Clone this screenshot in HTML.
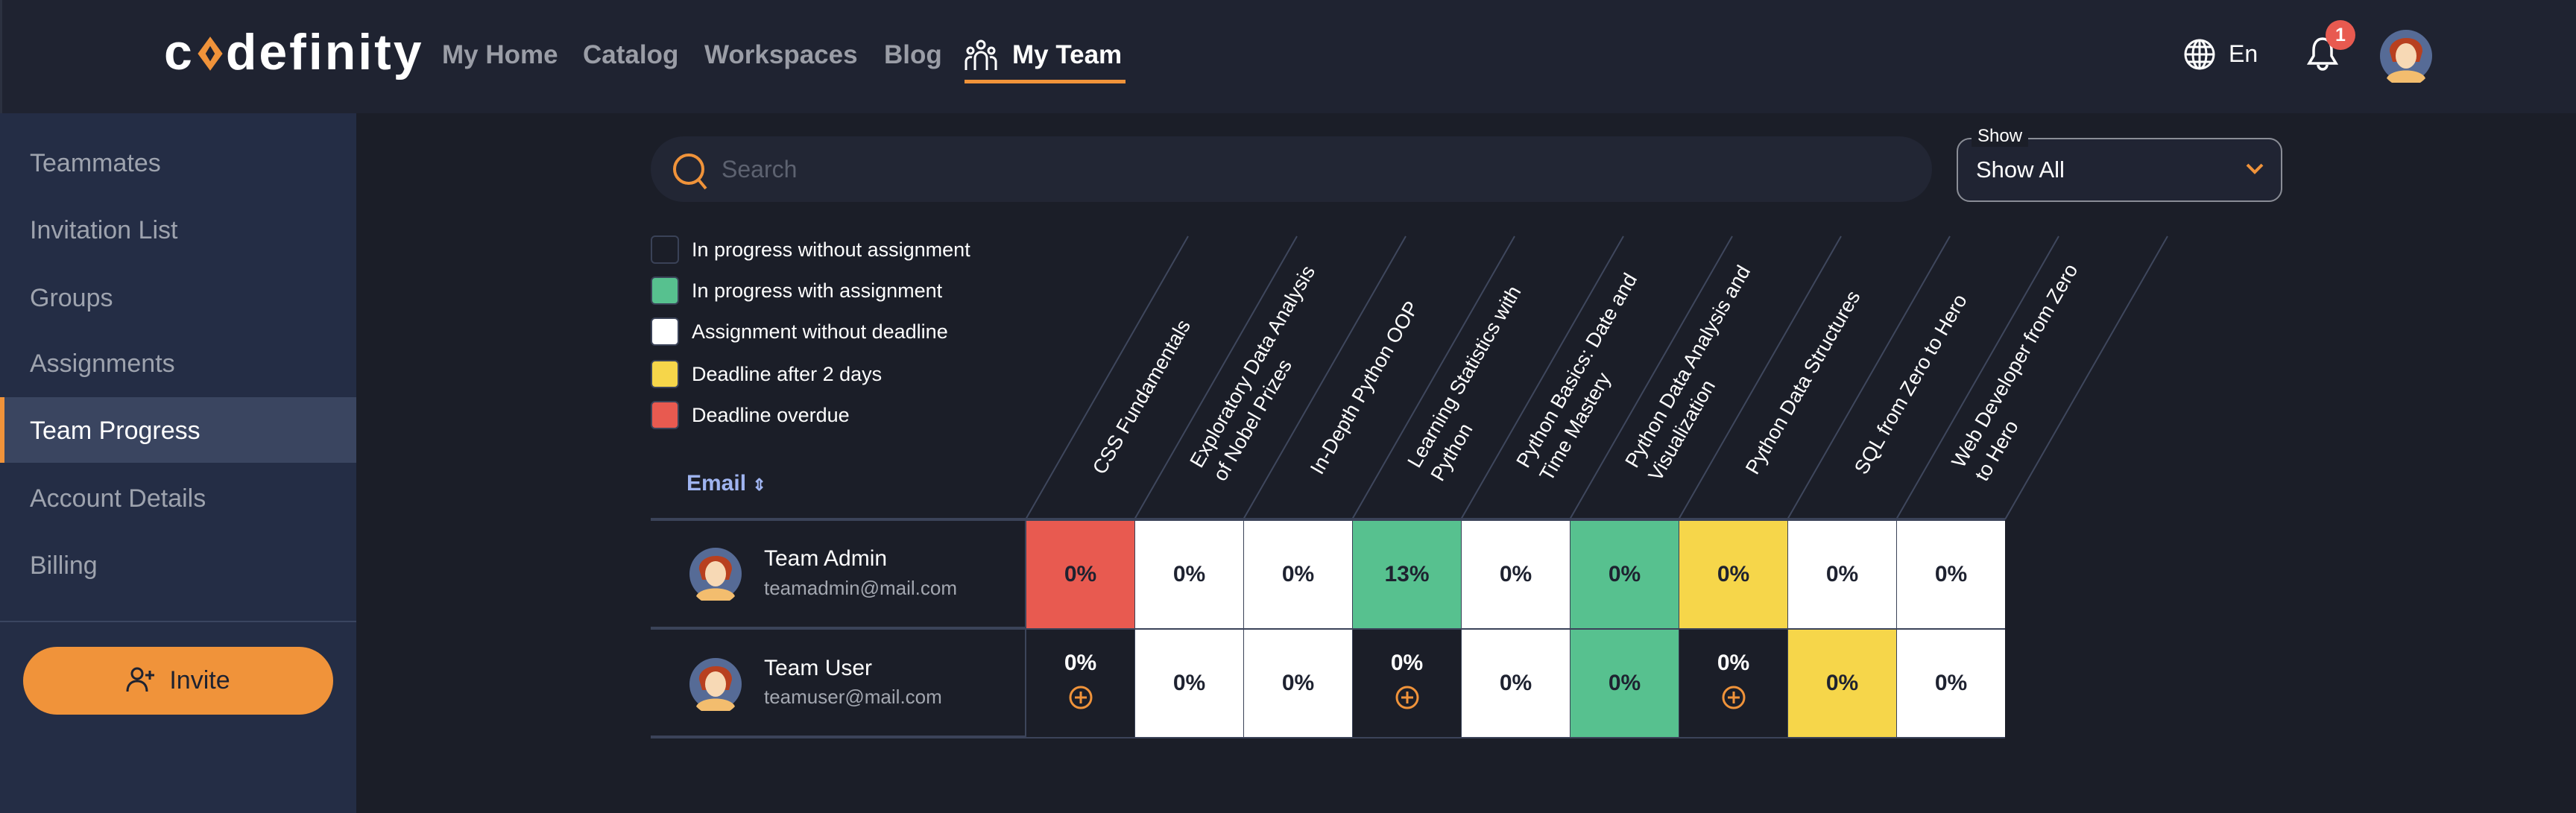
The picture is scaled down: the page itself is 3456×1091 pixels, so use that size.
<!DOCTYPE html>
<html><head><meta charset="utf-8"><style>
*{margin:0;padding:0;box-sizing:border-box}
body{width:3456px;height:1091px;background:#1b1e28;font-family:"Liberation Sans",sans-serif;position:relative;overflow:hidden;color:#fff}
.a{position:absolute}
.hdr{left:0;top:0;width:3456px;height:152px;background:#1f2331;border-left:3px solid #2c3140}
.nav{top:54px;font-size:35px;font-weight:bold;color:#9a9da6}
.side{left:0;top:152px;width:478px;height:939px;background:#242d45}
.si{left:40px;font-size:34px;color:#9ea3ae}
.leg{left:873px;width:38px;height:38px;border-radius:6px;border:2px solid #3a4257}
.lt{left:928px;font-size:27px;color:#fff}
.lab{height:80px;width:460px;display:flex;align-items:center;transform-origin:0 50%;transform:rotate(-60deg);font-size:27px;line-height:36px;color:#fff;white-space:nowrap}
.cell{width:146px;height:144px;display:flex;align-items:center;justify-content:center;font-weight:bold;font-size:30px;color:#1e2230;border-left:1px solid #3a4257}
.dk{background:#1b1e28;color:#fff;flex-direction:column;justify-content:flex-start;padding-top:28px}
.w{background:#fff}.r{background:#e85a50}.g{background:#57c18f}.y{background:#f6d64a}
.nm{left:1025px;font-size:30px;color:#fff}
.em{left:1025px;font-size:26px;color:#a3a7b0}
</style></head><body>
<div class="a hdr"></div>
<div class="a" style="left:220px;top:30px;font-size:68px;font-weight:bold;color:#fff;letter-spacing:3px;line-height:80px">c<svg width="42" height="54" viewBox="0 0 40 52" style="vertical-align:-6px"><path d="M4 26 L20 4 L36 26 L20 48 Z" fill="#f0933a"/><path d="M14 26 L20 16 L26 26 L20 36 Z" fill="#1f2331"/></svg>definity</div>
<div class="a nav" style="left:593px">My Home</div>
<div class="a nav" style="left:782px">Catalog</div>
<div class="a nav" style="left:945px">Workspaces</div>
<div class="a nav" style="left:1186px">Blog</div>
<svg class="a" style="left:1294px;top:52px" width="44" height="44" viewBox="0 0 44 44" fill="none" stroke="#fff" stroke-width="3"><circle cx="22" cy="8" r="5"/><circle cx="8" cy="16" r="4"/><circle cx="36" cy="16" r="4"/><path d="M14 42V26a8 8 0 0 1 16 0v16M2 42V30a6 6 0 0 1 8-5M42 42V30a6 6 0 0 0-8-5"/></svg>
<div class="a nav" style="left:1358px;color:#fff">My Team</div>
<div class="a" style="left:1294px;top:107px;width:216px;height:5px;background:#f0933a"></div>
<svg class="a" style="left:2929px;top:51px" width="44" height="44" viewBox="0 0 44 44" fill="none" stroke="#fff" stroke-width="3"><circle cx="22" cy="22" r="19"/><ellipse cx="22" cy="22" rx="9" ry="19"/><path d="M3 22h38M6 12h32M6 32h32M22 3v38"/></svg>
<div class="a" style="left:2990px;top:54px;font-size:32px">En</div>
<svg class="a" style="left:3093px;top:46px" width="46" height="52" viewBox="0 0 46 52" fill="none" stroke="#fff" stroke-width="3.5"><path d="M23 6c-8 0-12 7-12 15v8l-6 10h36l-6-10v-8c0-8-4-15-12-15z"/><path d="M17 41a6 6 0 0 0 12 0"/></svg>
<div class="a" style="left:3120px;top:27px;width:40px;height:40px;border-radius:50%;background:#e85a50;font-size:25px;font-weight:bold;text-align:center;line-height:40px">1</div>
<svg class="a" style="left:3192px;top:35px" width="72" height="76" viewBox="0 0 72 76"><circle cx="36" cy="40" r="35" fill="#566b96"/><path d="M14 34c-2-22 44-26 44 0l-4 14H18z" fill="#b8401f"/><ellipse cx="36" cy="40" rx="14" ry="17" fill="#f7d9b5"/><path d="M10 70c6-14 46-14 52 0a35 35 0 0 1-52 0z" fill="#f3bd6e"/></svg>
<div class="a side"></div>
<div class="a si" style="top:200px">Teammates</div>
<div class="a si" style="top:290px">Invitation List</div>
<div class="a si" style="top:381px">Groups</div>
<div class="a si" style="top:469px">Assignments</div>
<div class="a" style="left:0;top:533px;width:478px;height:88px;background:#3a4560;border-left:6px solid #f0933a"></div>
<div class="a si" style="top:559px;color:#fff">Team Progress</div>
<div class="a si" style="top:650px">Account Details</div>
<div class="a si" style="top:740px">Billing</div>
<div class="a" style="left:0;top:833px;width:478px;height:2px;background:#3a4560"></div>
<div class="a" style="left:31px;top:868px;width:416px;height:91px;border-radius:46px;background:#f0933a;color:#1e2230;font-size:34px;text-align:center;line-height:91px"><svg width="40" height="36" viewBox="0 0 40 36" fill="none" stroke="#1e2230" stroke-width="3" style="vertical-align:-6px;margin-right:18px"><circle cx="15" cy="10" r="7"/><path d="M2 34c0-10 6-14 13-14s13 4 13 14M32 6v12M26 12h12"/></svg>Invite</div>
<div class="a" style="left:873px;top:183px;width:1719px;height:88px;border-radius:44px;background:#222634"></div>
<svg class="a" style="left:900px;top:203px" width="52" height="54" viewBox="0 0 52 54" fill="none" stroke="#f0933a" stroke-width="4"><circle cx="24" cy="24" r="19"/><path d="M37 38l10 12"/></svg>
<div class="a" style="left:968px;top:209px;font-size:32px;color:#5d6270">Search</div>
<div class="a" style="left:2625px;top:185px;width:437px;height:86px;border-radius:18px;border:2px solid #8a8d96;background:#202433"></div>
<div class="a" style="left:2645px;top:169px;padding:0 8px;background:#1b1e28;font-size:24px;color:#fff">Show</div>
<div class="a" style="left:2651px;top:210px;font-size:31px;color:#fff">Show All</div>
<svg class="a" style="left:3012px;top:216px" width="26" height="20" viewBox="0 0 26 20" fill="none" stroke="#f0933a" stroke-width="4"><path d="M3 5l10 10 10-10"/></svg>
<div class="a leg" style="top:316px"></div><div class="a lt" style="top:320px">In progress without assignment</div>
<div class="a leg" style="top:371px;background:#57c18f"></div><div class="a lt" style="top:375px">In progress with assignment</div>
<div class="a leg" style="top:426px;background:#fff"></div><div class="a lt" style="top:430px">Assignment without deadline</div>
<div class="a leg" style="top:483px;background:#f6d64a"></div><div class="a lt" style="top:487px">Deadline after 2 days</div>
<div class="a leg" style="top:538px;background:#e85a50"></div><div class="a lt" style="top:542px">Deadline overdue</div>
<div class="a" style="left:921px;top:632px;font-size:30px;font-weight:bold;color:#9fb4f0">Email <span style="font-size:22px">&#8661;</span></div>
<svg class="a" style="left:0;top:0" width="3456" height="1091">
<g stroke="#3f475d" stroke-width="2">
<line x1="1376" y1="697" x2="1594" y2="317"/><line x1="1522" y1="697" x2="1740" y2="317"/><line x1="1668" y1="697" x2="1886" y2="317"/><line x1="1814" y1="697" x2="2032" y2="317"/><line x1="1960" y1="697" x2="2178" y2="317"/><line x1="2106" y1="697" x2="2324" y2="317"/><line x1="2252" y1="697" x2="2470" y2="317"/><line x1="2398" y1="697" x2="2616" y2="317"/><line x1="2544" y1="697" x2="2762" y2="317"/><line x1="2690" y1="697" x2="2908" y2="317"/>
<line x1="1376" y1="697" x2="1376" y2="989"/>
</g>
<g fill="#3b4359"><rect x="873" y="695" width="1817" height="4"/><rect x="873" y="841" width="1817" height="4"/><rect x="873" y="987" width="1817" height="4"/></g>
</svg>
<div class="a lab" style="left:1473px;top:594px">CSS Fundamentals</div>
<div class="a lab" style="left:1619px;top:594px"><div>Exploratory Data Analysis<br>of Nobel Prizes</div></div>
<div class="a lab" style="left:1765px;top:594px">In-Depth Python OOP</div>
<div class="a lab" style="left:1911px;top:594px"><div>Learning Statistics with<br>Python</div></div>
<div class="a lab" style="left:2057px;top:594px"><div>Python Basics: Date and<br>Time Mastery</div></div>
<div class="a lab" style="left:2203px;top:594px"><div>Python Data Analysis and<br>Visualization</div></div>
<div class="a lab" style="left:2349px;top:594px">Python Data Structures</div>
<div class="a lab" style="left:2495px;top:594px">SQL from Zero to Hero</div>
<div class="a lab" style="left:2641px;top:594px"><div>Web Developer from Zero<br>to Hero</div></div>
<svg class="a" style="left:924px;top:730px" width="72" height="76" viewBox="0 0 72 76"><circle cx="36" cy="40" r="35" fill="#566b96"/><path d="M14 34c-2-22 44-26 44 0l-4 14H18z" fill="#b8401f"/><ellipse cx="36" cy="40" rx="14" ry="17" fill="#f7d9b5"/><path d="M10 70c6-14 46-14 52 0a35 35 0 0 1-52 0z" fill="#f3bd6e"/></svg>
<div class="a nm" style="top:733px">Team Admin</div>
<div class="a em" style="top:774px">teamadmin@mail.com</div>
<svg class="a" style="left:924px;top:878px" width="72" height="76" viewBox="0 0 72 76"><circle cx="36" cy="40" r="35" fill="#566b96"/><path d="M14 34c-2-22 44-26 44 0l-4 14H18z" fill="#b8401f"/><ellipse cx="36" cy="40" rx="14" ry="17" fill="#f7d9b5"/><path d="M10 70c6-14 46-14 52 0a35 35 0 0 1-52 0z" fill="#f3bd6e"/></svg>
<div class="a nm" style="top:880px">Team User</div>
<div class="a em" style="top:920px">teamuser@mail.com</div>
<div class="a" style="left:1376px;top:699px;display:flex">
<div class="cell r">0%</div><div class="cell w">0%</div><div class="cell w">0%</div><div class="cell g">13%</div><div class="cell w">0%</div><div class="cell g">0%</div><div class="cell y">0%</div><div class="cell w">0%</div><div class="cell w">0%</div></div>
<div class="a" style="left:1376px;top:845px;display:flex">
<div class="cell dk">0%<svg width="34" height="34" viewBox="0 0 34 34" style="margin-top:12px" fill="none" stroke="#f0933a" stroke-width="3"><circle cx="17" cy="17" r="14"/><path d="M17 9v16M9 17h16"/></svg></div><div class="cell w">0%</div><div class="cell w">0%</div><div class="cell dk">0%<svg width="34" height="34" viewBox="0 0 34 34" style="margin-top:12px" fill="none" stroke="#f0933a" stroke-width="3"><circle cx="17" cy="17" r="14"/><path d="M17 9v16M9 17h16"/></svg></div><div class="cell w">0%</div><div class="cell g">0%</div><div class="cell dk">0%<svg width="34" height="34" viewBox="0 0 34 34" style="margin-top:12px" fill="none" stroke="#f0933a" stroke-width="3"><circle cx="17" cy="17" r="14"/><path d="M17 9v16M9 17h16"/></svg></div><div class="cell y">0%</div><div class="cell w">0%</div></div>
</body></html>
